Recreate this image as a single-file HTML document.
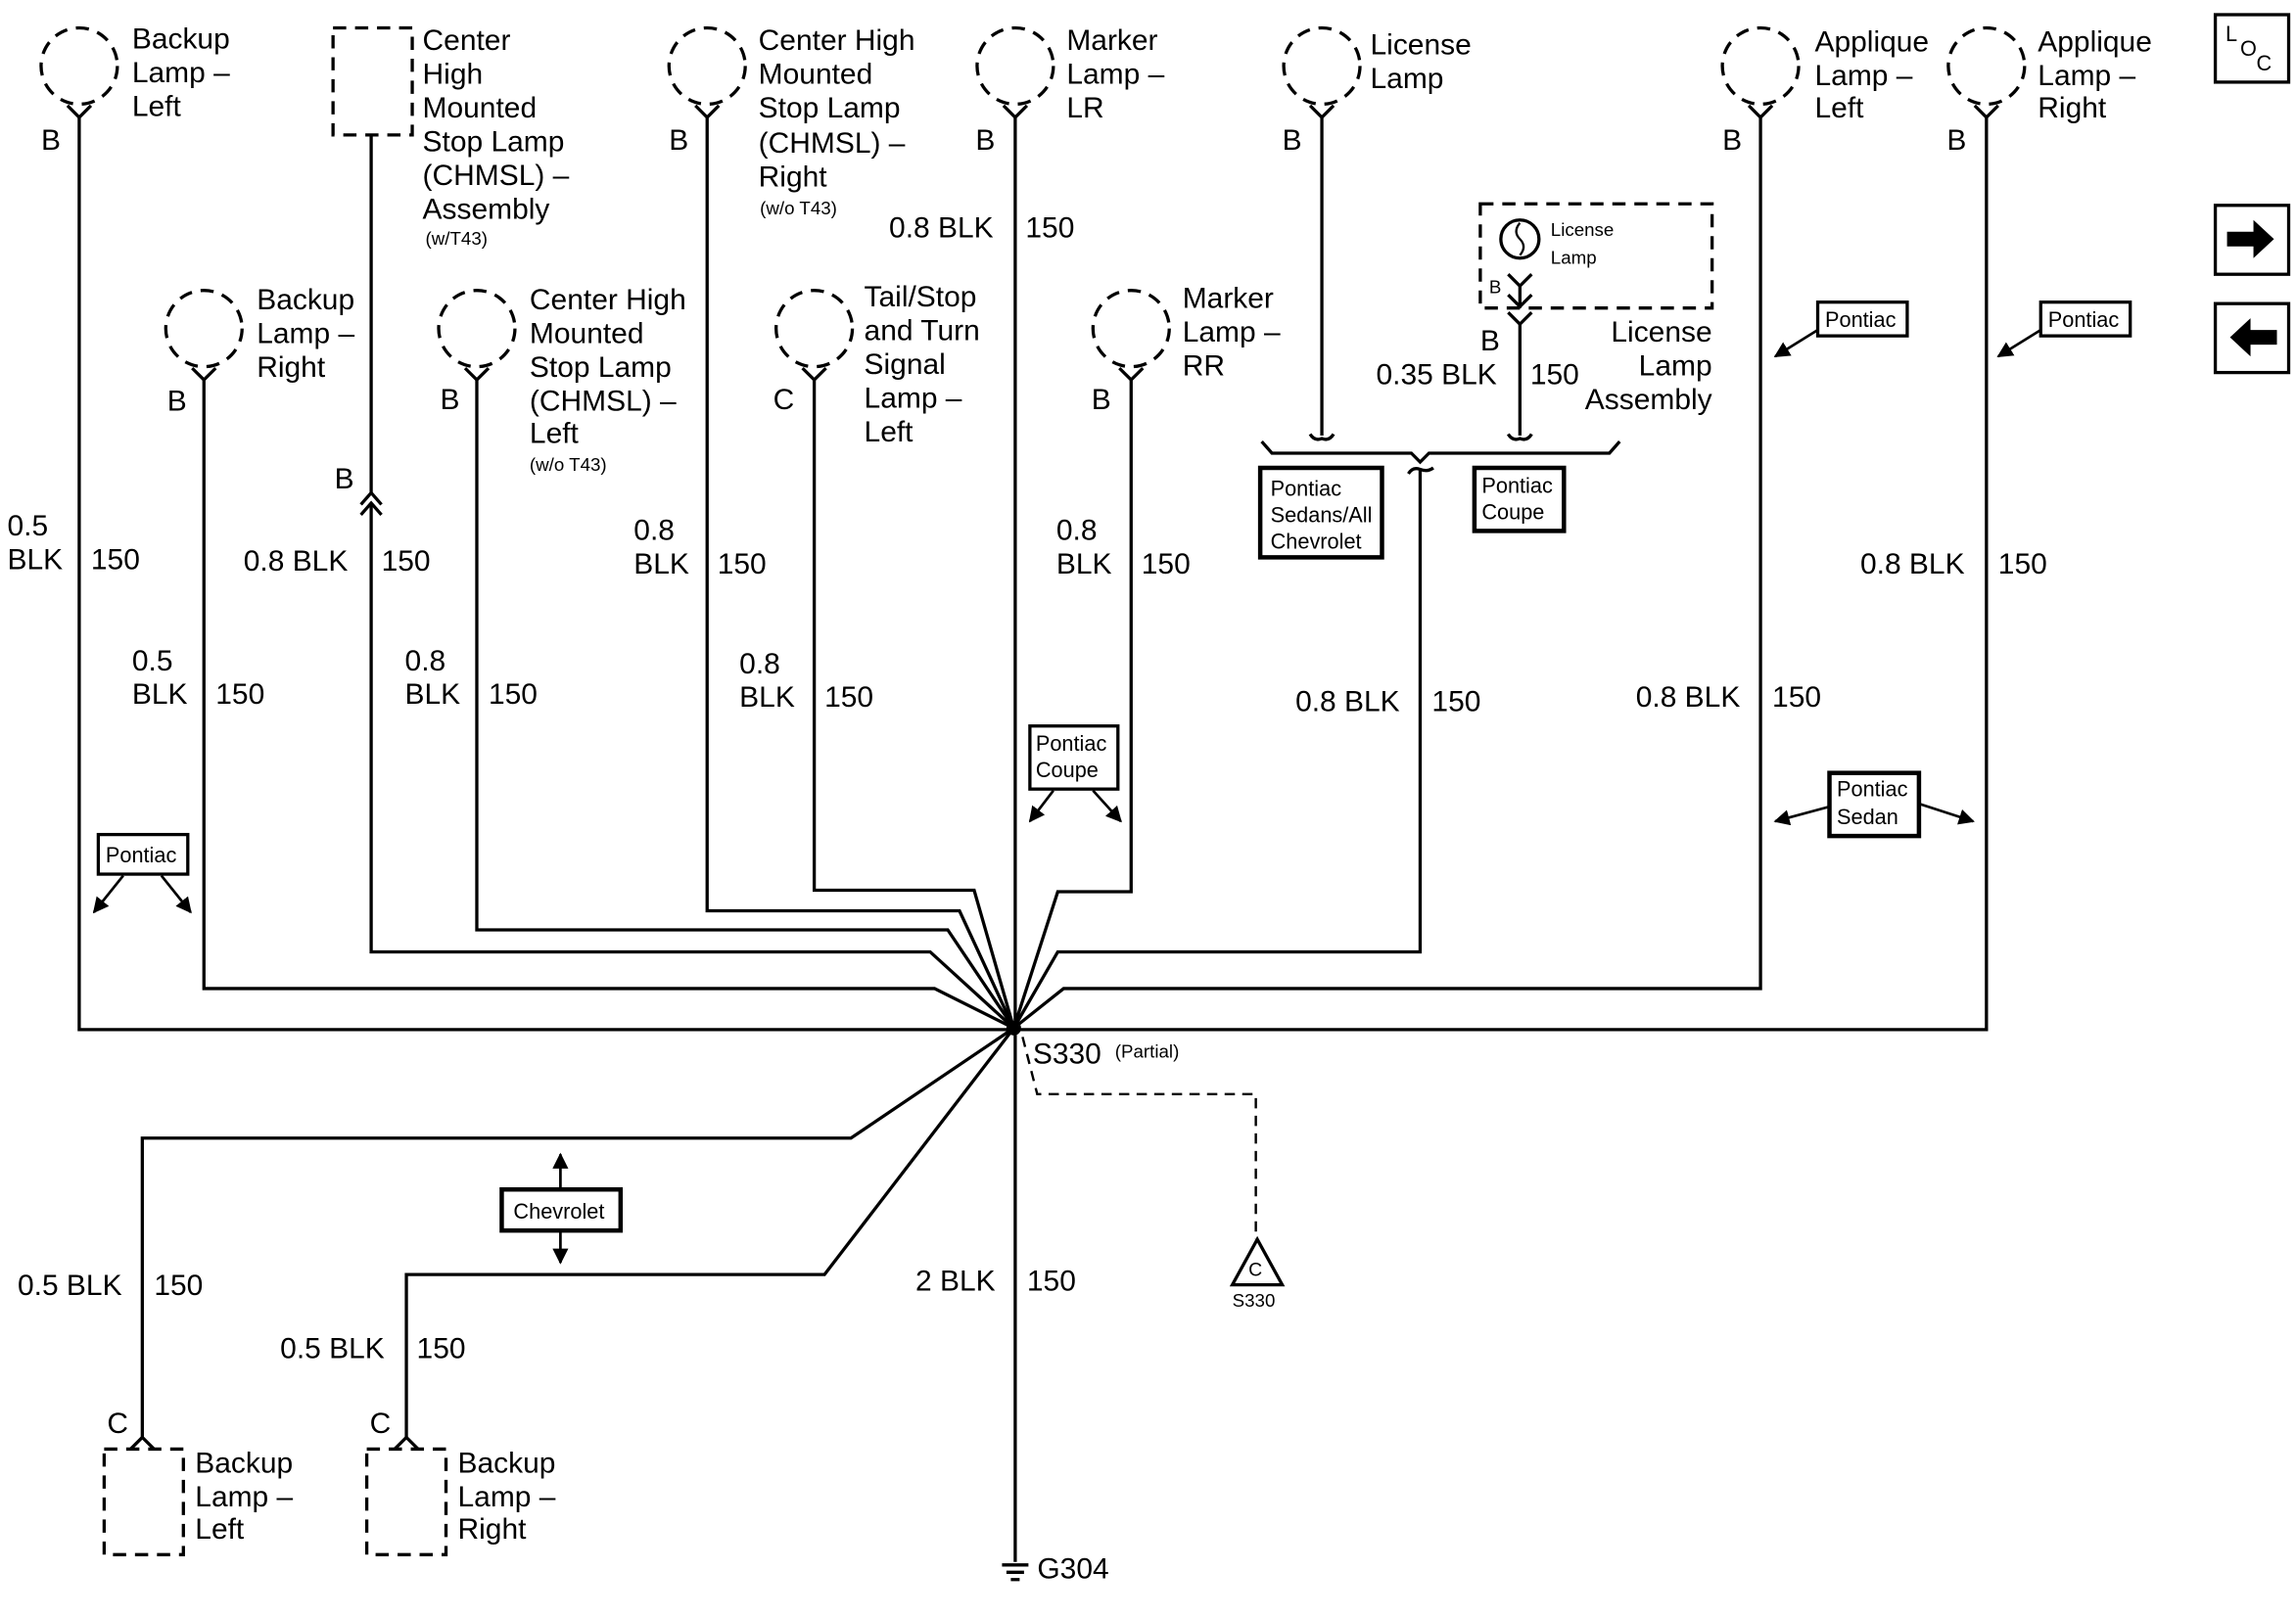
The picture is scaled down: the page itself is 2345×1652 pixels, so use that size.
<!DOCTYPE html>
<html><head><meta charset="utf-8"><style>
html,body{margin:0;padding:0;background:#fff;}
svg{display:block;}
text{font-family:"Liberation Sans",sans-serif;fill:#000;}
.t{font-size:20px;}
.s{font-size:14.5px;}
.n{font-size:12.5px;}
</style></head><body>
<svg width="2345" height="1652" viewBox="0 0 1565 1102.5" xmlns="http://www.w3.org/2000/svg">
<defs>
<marker id="ah" viewBox="0 0 10 10" refX="9" refY="5" markerWidth="6" markerHeight="6" orient="auto-start-reverse"><path d="M0,0 L10,5 L0,10 z" fill="#000"/></marker>
</defs>
<g fill="none" stroke="#000" stroke-width="2.2">
<!-- lamps top row dashed circles -->
<g stroke-dasharray="9,6">
<circle cx="54" cy="45" r="26"/>
<circle cx="482" cy="45" r="26"/>
<circle cx="692" cy="45" r="26"/>
<circle cx="901" cy="45" r="26"/>
<circle cx="1200" cy="45" r="26"/>
<circle cx="1354" cy="45" r="26"/>
<circle cx="139" cy="224" r="26"/>
<circle cx="325" cy="224" r="26"/>
<circle cx="555" cy="224" r="26"/>
<circle cx="771" cy="224" r="26"/>
<rect x="227" y="19" width="54" height="73"/>
<rect x="1009" y="139" width="158" height="71"/>
<rect x="71" y="988" width="54" height="72"/>
<rect x="250" y="988" width="54" height="72"/>
</g>
<!-- connector Y marks -->
<g>
<path d="M46,72 L54,80 L62,72"/><path d="M684,72 L692,80 L700,72"/><path d="M474,72 L482,80 L490,72"/>
<path d="M893,72 L901,80 L909,72"/><path d="M1192,72 L1200,80 L1208,72"/><path d="M1346,72 L1354,80 L1362,72"/>
<path d="M131,251 L139,259 L147,251"/><path d="M317,251 L325,259 L333,251"/><path d="M547,251 L555,259 L563,251"/><path d="M763,251 L771,259 L779,251"/>
<path d="M1028,213 L1036,221 L1044,213"/><path d="M1028,187 L1036,195 L1044,187"/>
<path d="M1028,201 L1036,209 L1044,201"/>
<path d="M89,988 L97,980 L105,988"/><path d="M269,988 L277,980 L285,988"/>
<path d="M246,344 L253,336 L260,344"/><path d="M246,351 L253,343 L260,351"/>
</g>
<!-- wires -->
<path d="M54,80 V702 H1354 V80"/>
<path d="M139,259 V674 H637 L691,701"/>
<path d="M253,92 V337 M253,344 V649 H634 L691,701"/>
<path d="M325,259 V634 H646 L691,701"/>
<path d="M482,80 V621 H654 L691,701"/>
<path d="M555,259 V607 H664 L691,701"/>
<path d="M692,80 V1065"/>
<path d="M771,259 V608 H721 L691,701"/>
<path d="M968,320 V649 H721 L691,701"/>
<path d="M1200,80 V674 H725 L691,701"/>
<path d="M901,80 V297 M893,296 Q896,301 901,299 Q906,301 909,296"/>
<path d="M1036,221 V297 M1028,296 Q1031,301 1036,299 Q1041,301 1044,296"/>
<path d="M1036,195 V210"/>
<path d="M860,301 L867,309 H962 L968,315 L974,309 H1097 L1104,301"/>
<path d="M960,323 Q963,318 968,320 Q973,322 977,319"/>
<path d="M691,701 L580,776 H97 V980"/>
<path d="M691,701 L562,869 H277 V980"/>
<!-- license lamp symbol -->
<circle cx="1036" cy="163" r="13"/>
<path d="M1036,152 Q1031,158 1036,163 Q1041,168 1036,174" stroke-width="1.5"/>
<!-- dashed S330 -->
<path d="M697,707 L707,746 H856 V845" stroke-dasharray="7,5" stroke-width="1.6"/>
<path d="M857,845 L840,876 H874 Z"/>
<!-- ground -->
<path d="M683,1067 H701 M686,1072 H698 M689,1077 H695"/>
<!-- boxes -->
<rect x="67" y="569" width="61" height="27"/>
<rect x="702" y="495" width="60" height="43"/>
<rect x="859" y="319" width="83" height="61" stroke-width="3"/>
<rect x="1005" y="319" width="61" height="43" stroke-width="3"/>
<rect x="1239" y="206" width="61" height="23"/>
<rect x="1391" y="206" width="61" height="23"/>
<rect x="1247" y="527" width="61" height="43" stroke-width="3"/>
<rect x="342" y="811" width="81" height="28" stroke-width="3"/>
<rect x="1510" y="10" width="50" height="46"/>
<rect x="1510" y="140" width="50" height="47"/>
<rect x="1510" y="207" width="50" height="47"/>
<!-- box arrows -->
<g stroke-width="1.8" marker-end="url(#ah)">
<path d="M84,597 L64,622"/><path d="M110,597 L130,622"/>
<path d="M718,539 L702,560"/><path d="M745,539 L764,560"/>
<path d="M1239,225 L1210,243"/><path d="M1391,225 L1362,243"/>
<path d="M1247,550 L1210,560"/><path d="M1308,548 L1345,560"/>
<path d="M382,811 V787"/><path d="M382,839 V861"/>
</g>
</g>
<circle cx="691" cy="701" r="5" fill="#000"/>
<!-- arrows icons -->
<path d="M1518,158 H1536 V150 L1550,163 L1536,176 V168 H1518 Z" fill="#000"/>
<path d="M1552,225 H1534 V217 L1520,230 L1534,243 V235 H1552 Z" fill="#000"/>
<text x="1517" y="28" class="s">L</text><text x="1527" y="38" class="s">O</text><text x="1538" y="48" class="s">C</text>
<!-- lamp labels -->
<g class="t">
<text x="90" y="33">Backup</text><text x="90" y="56">Lamp –</text><text x="90" y="79">Left</text>
<text x="288" y="34">Center</text><text x="288" y="57">High</text><text x="288" y="80">Mounted</text><text x="288" y="103">Stop Lamp</text><text x="288" y="126">(CHMSL) –</text><text x="288" y="149">Assembly</text>
<text x="517" y="34">Center High</text><text x="517" y="57">Mounted</text><text x="517" y="80">Stop Lamp</text><text x="517" y="104">(CHMSL) –</text><text x="517" y="127">Right</text>
<text x="727" y="34">Marker</text><text x="727" y="57">Lamp –</text><text x="727" y="80">LR</text>
<text x="934" y="37">License</text><text x="934" y="60">Lamp</text>
<text x="1237" y="35">Applique</text><text x="1237" y="58">Lamp –</text><text x="1237" y="80">Left</text>
<text x="1389" y="35">Applique</text><text x="1389" y="58">Lamp –</text><text x="1389" y="80">Right</text>
<text x="175" y="211">Backup</text><text x="175" y="234">Lamp –</text><text x="175" y="257">Right</text>
<text x="361" y="211">Center High</text><text x="361" y="234">Mounted</text><text x="361" y="257">Stop Lamp</text><text x="361" y="280">(CHMSL) –</text><text x="361" y="302">Left</text>
<text x="589" y="209">Tail/Stop</text><text x="589" y="232">and Turn</text><text x="589" y="255">Signal</text><text x="589" y="278">Lamp –</text><text x="589" y="301">Left</text>
<text x="806" y="210">Marker</text><text x="806" y="233">Lamp –</text><text x="806" y="256">RR</text>
<text x="1167" y="233" text-anchor="end">License</text><text x="1167" y="256" text-anchor="end">Lamp</text><text x="1167" y="279" text-anchor="end">Assembly</text>
<text x="133" y="1004">Backup</text><text x="133" y="1027">Lamp –</text><text x="133" y="1049">Left</text>
<text x="312" y="1004">Backup</text><text x="312" y="1027">Lamp –</text><text x="312" y="1049">Right</text>
<!-- pin letters -->
<text x="28" y="102">B</text><text x="228" y="333">B</text><text x="456" y="102">B</text><text x="665" y="102">B</text><text x="874" y="102">B</text><text x="1174" y="102">B</text><text x="1327" y="102">B</text>
<text x="114" y="280">B</text><text x="300" y="279">B</text><text x="527" y="279">C</text><text x="744" y="279">B</text><text x="1009" y="239">B</text>
<text x="73" y="977">C</text><text x="252" y="977">C</text>
<!-- wire labels -->
<text x="5" y="365">0.5</text><text x="5" y="388">BLK</text><text x="62" y="388">150</text>
<text x="166" y="389">0.8 BLK</text><text x="260" y="389">150</text>
<text x="90" y="457">0.5</text><text x="90" y="480">BLK</text><text x="147" y="480">150</text>
<text x="276" y="457">0.8</text><text x="276" y="480">BLK</text><text x="333" y="480">150</text>
<text x="432" y="368">0.8</text><text x="432" y="391">BLK</text><text x="489" y="391">150</text>
<text x="504" y="459">0.8</text><text x="504" y="482">BLK</text><text x="562" y="482">150</text>
<text x="606" y="162">0.8 BLK</text><text x="699" y="162">150</text>
<text x="720" y="368">0.8</text><text x="720" y="391">BLK</text><text x="778" y="391">150</text>
<text x="938" y="262">0.35 BLK</text><text x="1043" y="262">150</text>
<text x="883" y="485">0.8 BLK</text><text x="976" y="485">150</text>
<text x="1115" y="482">0.8 BLK</text><text x="1208" y="482">150</text>
<text x="1268" y="391">0.8 BLK</text><text x="1362" y="391">150</text>
<text x="12" y="883">0.5 BLK</text><text x="105" y="883">150</text>
<text x="191" y="926">0.5 BLK</text><text x="284" y="926">150</text>
<text x="624" y="880">2 BLK</text><text x="700" y="880">150</text>
<text x="704" y="725">S330</text>
<text x="707" y="1076">G304</text>
</g>
<!-- line separators for wire labels -->
<g stroke="#000" stroke-width="1.6">
</g>
<g class="n">
<text x="290" y="167">(w/T43)</text>
<text x="518" y="146">(w/o T43)</text>
<text x="361" y="321">(w/o T43)</text>
<text x="760" y="721">(Partial)</text>
<text x="1057" y="161">License</text><text x="1057" y="180">Lamp</text>
<text x="851" y="870" font-size="13">C</text>
<text x="840" y="891">S330</text>
</g>
<g class="s">
<text x="72" y="588">Pontiac</text>
<text x="706" y="512">Pontiac</text><text x="706" y="530">Coupe</text>
<text x="866" y="338">Pontiac</text><text x="866" y="356">Sedans/All</text><text x="866" y="374">Chevrolet</text>
<text x="1010" y="336">Pontiac</text><text x="1010" y="354">Coupe</text>
<text x="1244" y="223">Pontiac</text>
<text x="1396" y="223">Pontiac</text>
<text x="1252" y="543">Pontiac</text><text x="1252" y="562">Sedan</text>
<text x="350" y="831">Chevrolet</text>
<text x="1015" y="200" font-size="12.5">B</text>
</g>
</svg>
</body></html>
